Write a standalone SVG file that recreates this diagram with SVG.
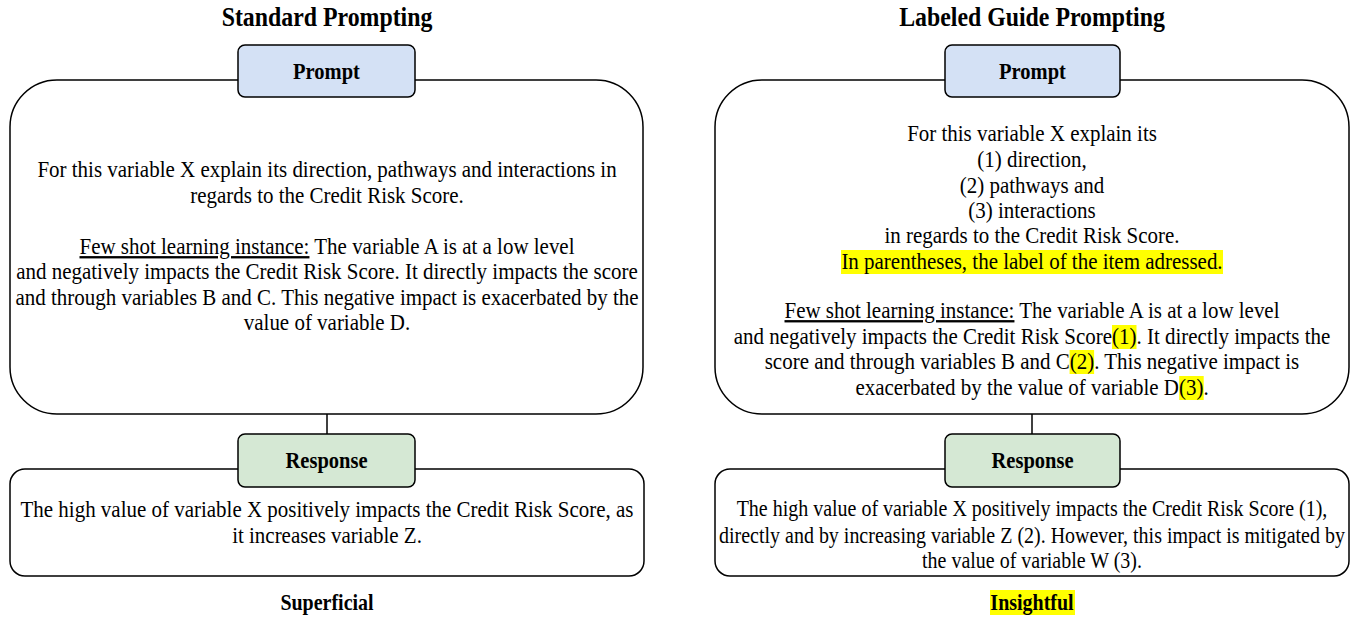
<svg xmlns="http://www.w3.org/2000/svg" width="1354" height="617" viewBox="0 0 1354 617">
<style>
.t{font-family:"Liberation Serif","Times New Roman",serif;fill:#000;text-anchor:middle}
.b{font-weight:bold}
.box{fill:#fff;stroke:#000;stroke-width:1.5}
.lblP{fill:#d4e1f5;stroke:#000;stroke-width:1.5}
.lblR{fill:#d5e8d4;stroke:#000;stroke-width:1.5}
.hl{fill:#ffff00}
.conn{stroke:#000;stroke-width:1.5;fill:none}
</style>
<rect width="1354" height="617" fill="#fff"/>

<g id="titles">
<text class="t b" transform="translate(327 0) scale(0.9 1)" x="0" y="26" font-size="26.5">Standard Prompting</text>
<text class="t b" transform="translate(1032 0) scale(0.9 1)" x="0" y="26" font-size="26.5">Labeled Guide Prompting</text>
</g>

<g id="connectors">
<line class="conn" x1="327" y1="414" x2="327" y2="434"/>
<line class="conn" x1="1032" y1="414" x2="1032" y2="434"/>
</g>

<g id="left-prompt">
<rect class="box" x="10" y="80" width="633" height="334" rx="47"/>
<g class="t" font-size="23.3" transform="translate(327 0) scale(0.9 1)">
<text x="0" y="177">For this variable X explain its direction, pathways and interactions in</text>
<text x="0" y="203">regards to the Credit Risk Score.</text>
<text x="0" y="254"><tspan text-decoration="underline">Few shot learning instance:</tspan> The variable A is at a low level</text>
<text x="0" y="279">and negatively impacts the Credit Risk Score. It directly impacts the score</text>
<text x="0" y="305">and through variables B and C. This negative impact is exacerbated by the</text>
<text x="0" y="330">value of variable D.</text>
</g>
</g>
<g id="left-prompt-label">
<rect class="lblP" x="238" y="45" width="177" height="52" rx="7"/>
<text class="t b" transform="translate(326.5 0) scale(0.9 1)" x="0" y="79" font-size="22.8">Prompt</text>
</g>

<g id="left-response">
<rect class="box" x="10" y="469" width="634" height="107" rx="15"/>
<g class="t" font-size="23.3" transform="translate(327 0) scale(0.9 1)">
<text x="0" y="517">The high value of variable X positively impacts the Credit Risk Score, as</text>
<text x="0" y="543">it increases variable Z.</text>
</g>
</g>
<g id="left-response-label">
<rect class="lblR" x="238" y="434" width="177" height="53" rx="7"/>
<text class="t b" transform="translate(326.5 0) scale(0.9 1)" x="0" y="468" font-size="22.8">Response</text>
</g>
<g id="left-verdict">
<text class="t b" transform="translate(327 0) scale(0.9 1)" x="0" y="610" font-size="22.2">Superficial</text>
</g>

<g id="right-prompt">
<rect class="box" x="715" y="80" width="634" height="334" rx="47"/>
<rect class="hl" x="841" y="250" width="382" height="24"/>
<rect class="hl" x="1112" y="325" width="24.5" height="24"/>
<rect class="hl" x="1069.6" y="350" width="24.5" height="24"/>
<rect class="hl" x="1179.2" y="376" width="24.5" height="24"/>
<g class="t" font-size="23.3" transform="translate(1032 0) scale(0.9 1)">
<text x="0" y="141">For this variable X explain its</text>
<text x="0" y="167">(1) direction,</text>
<text x="0" y="193">(2) pathways and</text>
<text x="0" y="218">(3) interactions</text>
<text x="0" y="243">in regards to the Credit Risk Score.</text>
<text x="0" y="269">In parentheses, the label of the item adressed.</text>
<text x="0" y="318"><tspan text-decoration="underline">Few shot learning instance:</tspan> The variable A is at a low level</text>
<text x="0" y="344">and negatively impacts the Credit Risk Score(1). It directly impacts the</text>
<text x="0" y="369">score and through variables B and C(2). This negative impact is</text>
<text x="0" y="395">exacerbated by the value of variable D(3).</text>
</g>
</g>
<g id="right-prompt-label">
<rect class="lblP" x="945" y="45" width="175" height="52" rx="7"/>
<text class="t b" transform="translate(1032.5 0) scale(0.9 1)" x="0" y="79" font-size="22.8">Prompt</text>
</g>

<g id="right-response">
<rect class="box" x="715" y="469" width="634" height="107" rx="15"/>
<g class="t" font-size="22.2" transform="translate(1032 0) scale(0.9 1)">
<text x="0" y="516">The high value of variable X positively impacts the Credit Risk Score (1),</text>
<text x="0" y="543">directly and by increasing variable Z (2). However, this impact is mitigated by</text>
<text x="0" y="568">the value of variable W (3).</text>
</g>
</g>
<g id="right-response-label">
<rect class="lblR" x="945" y="434" width="175" height="53" rx="7"/>
<text class="t b" transform="translate(1032.5 0) scale(0.9 1)" x="0" y="468" font-size="22.8">Response</text>
</g>
<g id="right-verdict">
<rect class="hl" x="990" y="590" width="85" height="25"/>
<text class="t b" transform="translate(1032 0) scale(0.9 1)" x="0" y="610" font-size="22.2">Insightful</text>
</g>
</svg>
